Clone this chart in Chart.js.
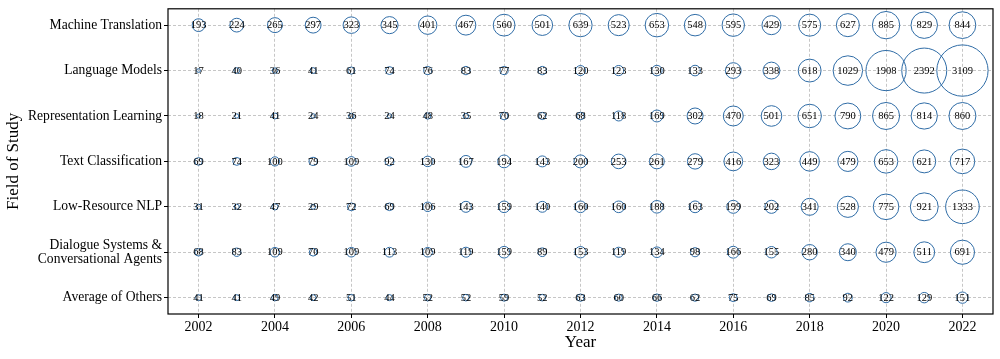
<!DOCTYPE html>
<html>
<head>
<meta charset="utf-8">
<script src="https://cdn.jsdelivr.net/npm/chart.js@4/dist/chart.umd.min.js"></script>
<style>
  html, body { margin: 0; padding: 0; background: #fff; }
</style>
</head>
<body>
<canvas id="bubbleChart" width="1000" height="359"></canvas>
<script>
// ===== DATA =====
const years = [2002, 2003, 2004, 2005, 2006, 2007, 2008, 2009, 2010, 2011, 2012,
               2013, 2014, 2015, 2016, 2017, 2018, 2019, 2020, 2021, 2022];

// top to bottom as shown on the y axis
const fields = [
    "Machine Translation",
    "Language Models",
    "Representation Learning",
    "Text Classification",
    "Low-Resource NLP",
    ["Dialogue Systems &", "Conversational Agents"],
    "Average of Others"
];

const machineTranslation = [193, 224, 265, 297, 323, 345, 401, 467, 560, 501, 639, 523, 653, 548, 595, 429, 575, 627, 885, 829, 844];
const languageModels = [17, 40, 36, 41, 61, 74, 76, 83, 77, 83, 120, 123, 130, 133, 293, 338, 618, 1029, 1908, 2392, 3109];
const representationLearning = [18, 21, 41, 24, 36, 24, 48, 35, 70, 62, 68, 118, 169, 302, 470, 501, 651, 790, 865, 814, 860];
const textClassification = [69, 74, 100, 79, 109, 92, 130, 167, 194, 143, 200, 253, 261, 279, 416, 323, 449, 479, 653, 621, 717];
const lowResourceNLP = [31, 32, 47, 29, 72, 69, 106, 143, 159, 140, 160, 160, 188, 163, 199, 202, 341, 528, 775, 921, 1333];
const dialogueSystems = [68, 83, 109, 70, 109, 113, 109, 119, 159, 89, 153, 119, 134, 98, 166, 155, 280, 340, 479, 511, 691];
const averageOthers = [41, 41, 49, 42, 51, 44, 52, 52, 59, 52, 63, 60, 66, 62, 75, 69, 85, 92, 122, 129, 151];

const seriesValues = [machineTranslation, languageModels, representationLearning,
                      textClassification, lowResourceNLP, dialogueSystems, averageOthers];

document.addEventListener("DOMContentLoaded", function () {
    Chart.defaults.font.family = "'Liberation Serif', 'DejaVu Serif', serif";
    Chart.defaults.color = "#000";

    const SIZE_K = 0.46; // bubble radius per sqrt(count)
    const edgeColor = "#2f6ca6";
    const nRows = fields.length;

    const datasets = seriesValues.map(function (vals, i) {
        return {
            label: Array.isArray(fields[i]) ? fields[i].join(" ") : fields[i],
            data: vals.map(function (v, j) {
                return { x: years[j], y: nRows - 1 - i, r: SIZE_K * Math.sqrt(v), v: v };
            }),
            backgroundColor: "rgba(255,255,255,0)",
            borderColor: edgeColor,
            borderWidth: 1,
            clip: false
        };
    });

    // value labels inside bubbles
    const valueLabels = {
        id: "valueLabels",
        afterDatasetsDraw(chart) {
            const ctx = chart.ctx;
            ctx.save();
            ctx.font = "10.5px 'Liberation Serif', serif";
            ctx.fillStyle = "#000";
            ctx.textAlign = "center";
            ctx.textBaseline = "middle";
            chart.data.datasets.forEach(function (ds, i) {
                chart.getDatasetMeta(i).data.forEach(function (pt, j) {
                    ctx.fillText(String(ds.data[j].v), pt.x, pt.y + 0.5);
                });
            });
            ctx.restore();
        }
    };

    // box round the plot area
    const frame = {
        id: "frame",
        afterDraw(chart) {
            const a = chart.chartArea;
            const ctx = chart.ctx;
            ctx.save();
            ctx.strokeStyle = "#000";
            ctx.lineWidth = 1.2;
            ctx.strokeRect(a.left, a.top, a.right - a.left, a.bottom - a.top);
            ctx.restore();
        }
    };

    new Chart(document.getElementById("bubbleChart"), {
        type: "bubble",
        data: { datasets: datasets },
        plugins: [valueLabels, frame],
        options: {
            responsive: false,
            animation: false,
            events: [],
            layout: { autoPadding: false, padding: { top: 6, right: 7, left: 0, bottom: 0 } },
            plugins: {
                legend: { display: false },
                tooltip: { enabled: false }
            },
            scales: {
                x: {
                    type: "linear",
                    min: 2001.2,
                    max: 2022.8,
                    afterFit: function (s) { s.height = 45; },
                    ticks: {
                        stepSize: 2,
                        includeBounds: false,
                        maxRotation: 0,
                        padding: 1,
                        color: "#000",
                        font: { size: 14 },
                        callback: function (v) { return String(v); }
                    },
                    grid: {
                        color: "#b8b8b8",
                        lineWidth: 0.8,
                        tickLength: 4,
                        tickColor: "#000",
                        tickWidth: 1
                    },
                    border: { display: false, dash: [3, 2] },
                    title: {
                        display: true,
                        text: "Year",
                        color: "#000",
                        font: { size: 17 },
                        padding: { top: 0, bottom: 6 }
                    }
                },
                y: {
                    type: "linear",
                    min: -0.36,
                    max: nRows - 1 + 0.36,
                    afterFit: function (s) { s.width = 168; },
                    ticks: {
                        stepSize: 1,
                        includeBounds: false,
                        padding: 2,
                        color: "#000",
                        font: { size: 13.6, lineHeight: 1.0 },
                        callback: function (v) {
                            const idx = nRows - 1 - v;
                            return fields[idx] !== undefined ? fields[idx] : "";
                        }
                    },
                    grid: {
                        color: "#b8b8b8",
                        lineWidth: 0.8,
                        tickLength: 4,
                        tickColor: "#000",
                        tickWidth: 1
                    },
                    border: { display: false, dash: [3, 2] },
                    title: {
                        display: true,
                        text: "Field of Study",
                        color: "#000",
                        font: { size: 17 },
                        padding: { top: 3, bottom: 0 }
                    }
                }
            }
        }
    });
});
</script>
</body>
</html>
